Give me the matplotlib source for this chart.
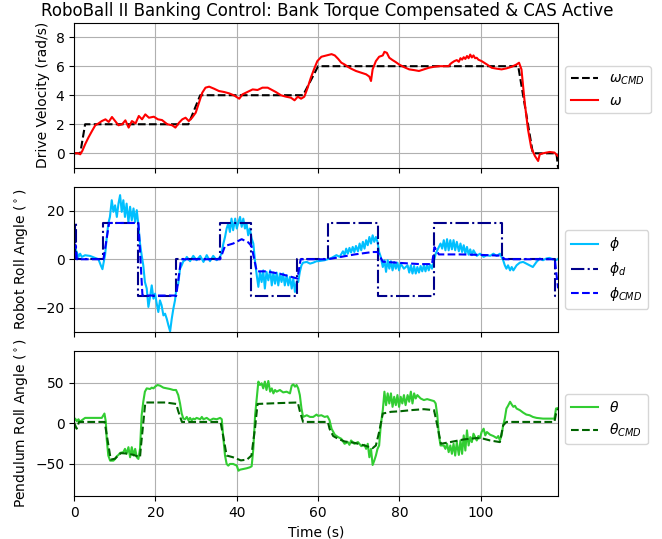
import matplotlib
matplotlib.use("Agg")
import matplotlib.pyplot as plt

# drive velocity command / measured (rad/s)
t_wcmd = [0, 1.5, 2.7, 28.1, 31.0, 56.3, 60.0, 109.2, 112.8, 118.6, 119.0]
w_cmd = [0, 0, 2, 2, 4, 4, 6, 6, 0, 0, -1]

t_w = [0, 1.0, 1.5, 2.0, 2.7, 3.5, 4.4, 5.2, 6.0, 6.8, 7.7, 8.5, 9.3, 10.1, 10.9, 11.8,
       12.6, 13.4, 14.2, 15.1, 15.9, 16.7, 17.5, 18.4, 19.6, 20.6, 21.6, 22.9, 24.1, 24.9,
       25.8, 26.6, 27.4, 28.2, 29.0, 29.9, 30.7, 31.5, 32.3, 33.2, 34.4, 35.6, 36.9, 38.1,
       39.3, 40.6, 41.4, 42.6, 43.9, 45.1, 46.3, 47.6, 48.4, 49.6, 50.9, 52.1, 53.3, 54.2,
       55.0, 55.8, 56.6, 57.4, 58.2, 59.0, 59.8, 60.8, 62.0, 63.3, 64.1, 64.9, 65.7, 66.5,
       67.3, 68.1, 69.3, 70.6, 71.8, 72.6, 73.0, 73.4, 74.2, 75.0, 75.9, 76.3, 76.9, 77.5,
       78.3, 79.1, 79.9, 81.1, 82.4, 83.6, 84.8, 86.0, 87.2, 88.5, 89.7, 90.9, 92.1, 92.5,
       92.9, 93.5, 94.1, 94.6, 95.0, 95.4, 95.8, 96.2, 96.6, 97.0, 97.4, 97.8, 98.2, 98.6,
       99.0, 99.4, 100.2, 101.5, 102.7, 103.9, 105.1, 106.3, 107.6, 108.8,
       109.4, 110.0, 110.8, 111.6, 112.4, 113.3, 114.1, 114.5, 115.3, 116.9, 118.1, 118.9]
w = [0.0, 0.0, -0.07, 0.16, 0.62, 1.08, 1.54, 1.93, 2.06, 2.22, 2.34, 2.16, 2.5, 2.22, 1.93, 2.0,
     2.27, 1.77, 2.22, 2.06, 2.57, 2.34, 2.68, 2.45, 2.52, 2.34, 2.29, 2.0, 1.93, 1.77,
     2.11, 2.34, 2.45, 2.22, 2.45, 2.8, 3.49, 4.17, 4.52, 4.59, 4.45, 4.29, 4.22, 4.13,
     3.99, 3.76, 4.06, 4.22, 4.4, 4.36, 4.52, 4.52, 4.4, 4.22, 3.99, 3.9, 3.83, 3.65,
     3.9, 3.76, 3.9, 4.5, 5.2, 5.8, 6.35, 6.65, 6.74, 6.83, 6.74, 6.51, 6.24, 6.12,
     5.96, 5.83, 5.67, 5.55, 5.44, 5.28, 4.98, 5.78, 6.35, 6.65, 6.74, 6.99, 6.92, 6.58,
     6.42, 6.28, 6.12, 5.94, 5.78, 5.73, 5.67, 5.78, 5.89, 5.96, 6.0, 6.0, 6.0, 6.15,
     6.24, 6.35, 6.42, 6.3, 6.55, 6.45, 6.62, 6.5, 6.7, 6.55, 6.8, 6.6, 6.74, 6.55,
     6.58, 6.45, 6.35, 6.12, 5.89, 5.83, 5.78, 5.85, 5.96, 6.12,
     6.24, 5.78, 3.49, 1.65, 0.39, -0.18, -0.53, -0.07, 0.0, 0.09, 0.05, -0.18]

# robot roll angle (deg)
t_phi = [0, 0.25, 0.65, 1.06, 1.47, 1.88, 2.7, 3.9, 5.16, 5.98, 6.55, 6.96, 7.2, 7.6, 8.0, 8.4,
         8.8, 9.25, 9.66, 10.07, 10.5, 10.9, 11.3, 11.7, 12.1, 12.5, 12.9, 13.35, 13.76, 14.17,
         14.6, 15.0, 15.4, 15.8, 16.2, 16.6, 17.0, 17.4, 17.85, 18.26, 18.67, 19.08, 19.5, 19.9,
         20.3, 20.7, 21.1, 21.5, 21.95, 22.36, 22.77, 23.18, 23.6, 24.0, 24.4, 24.8, 25.2, 25.6,
         26.04, 26.45, 26.86, 27.27, 27.7, 28.5, 29.3, 30.1, 31.0, 31.8, 32.6, 33.4, 34.2, 35.05,
         35.9, 36.3, 36.7, 37.1, 37.5, 37.9, 38.3, 38.7, 39.1, 39.6, 40.0, 40.4, 40.8, 41.2,
         41.6, 42.0, 42.4, 42.8, 43.2, 43.65, 44.06, 44.5, 44.9, 45.3, 45.7, 46.1, 46.5, 46.9,
         47.3, 47.75, 48.2, 48.6, 49.0, 49.4, 49.8, 50.2, 50.6, 51.0, 51.4, 51.8, 52.25, 52.66,
         53.07, 53.5, 53.9, 54.3, 54.7, 55.1, 55.5, 55.9, 56.3, 57.2, 58.0, 58.8, 59.6, 60.0,
         61.6, 63.3, 64.5, 65.3, 66.1, 66.5, 66.9, 67.3, 67.7, 68.1, 68.5, 68.9, 69.3, 69.8,
         70.2, 70.6, 71.0, 71.4, 71.8, 72.2, 72.6, 73.0, 73.4, 73.8, 74.2, 74.6, 75.0, 75.4,
         75.9, 76.3, 76.7, 77.1, 77.5, 77.9, 78.3, 78.7, 79.1, 79.5, 79.9, 80.3, 81.1, 82.0,
         82.4, 82.8, 83.2, 83.6, 84.0, 84.4, 84.8, 85.2, 85.6, 86.0, 86.4, 86.8, 87.2, 87.6,
         88.0, 88.5, 88.9, 89.3, 89.7, 90.1, 90.5, 90.9, 91.3, 91.7, 92.1, 92.5, 92.9, 93.3,
         93.7, 94.1, 94.6, 95.0, 95.4, 95.8, 96.2, 96.6, 97.0, 97.4, 97.8, 98.2, 99.0, 99.8,
         100.7, 101.5, 102.3, 103.1, 103.9, 104.7, 105.1, 105.5, 105.9, 106.3, 106.7, 107.2,
         107.6, 108.0, 108.8, 109.6, 110.4, 111.2, 112.0, 112.8, 113.7, 114.5, 115.3, 116.1,
         116.9, 117.7, 118.5, 119.0]
phi = [0, 4.4, 3.0, 0.97, 2.3, 0.97, 1.66, 1.38, 0.55, 0, -2.5, -4.1, -1.8, 1.66, 8.6, 14.8,
       17.5, 24.4, 19.6, 22.3, 17.5, 23.0, 26.5, 19.6, 24.4, 17.5, 23.0, 15.4, 21.7, 16.1,
       21.0, 15.4, 20.3, 14.1, 6.5, 1.7, -2.5, -9.4, -12.1, -19.7, -15.6, -10.8, -16.3, -14.2,
       -18.3, -21.8, -17.0, -19.0, -23.2, -22.5, -24.6, -27.3, -29.8, -24.6, -20.4, -17.0, -11.4, -10.1,
       -3.9, -2.5, -0.8, -0.4, 0.97, -0.8, 1.4, -0.4, 1.4, -1.1, 1.7, -0.8, 1.4, -0.4,
       1.0, 3.0, 6.5, 9.2, 12.7, 14.8, 11.3, 16.8, 12.0, 16.8, 12.7, 15.4, 17.5, 13.4,
       16.8, 12.7, 14.8, 9.9, 12.7, 8.6, 6.5, -1.1, -6.6, -11.4, -5.2, -9.4, -4.6, -12.1,
       -5.2, -8.7, -4.6, -10.8, -5.5, -10.1, -5.5, -10.8, -5.9, -9.4, -5.9, -10.8, -6.6, -10.8,
       -7.3, -12.1, -8.0, -13.5, -9.4, -9.4, -5.2, -2.5, -1.4, -1.1, -1.8, -1.4, -0.8, -0.8,
       -0.4, 0.55, 1.7, 1.0, 3.3, 1.7, 4.4, 2.3, 4.7, 2.8, 5.1, 3.0, 5.5, 3.3,
       6.5, 3.7, 7.2, 4.4, 7.9, 5.8, 9.2, 6.5, 9.9, 7.2, 9.2, 7.2, 3.0, 1.0,
       -3.2, -0.4, -5.2, -0.4, -3.9, -0.8, -4.6, -1.1, -3.9, -1.4, -4.6, -1.8, -3.9, -2.5,
       -5.5, -2.5, -5.9, -2.8, -5.9, -3.2, -5.5, -2.8, -5.0, -2.5, -5.0, -2.2, -4.6, -2.2,
       -3.9, -0.4, 2.3, 3.7, 5.1, 6.5, 4.4, 7.9, 3.7, 8.3, 3.7, 7.9, 4.1, 7.9,
       3.7, 7.2, 3.3, 6.5, 3.0, 5.8, 2.3, 5.1, 1.9, 4.1, 1.7, 3.7, 1.4, 2.3,
       1.0, 1.7, 1.4, 2.3, 1.4, 2.3, 1.0, -0.4, -2.5, -3.9, -2.5, -4.6,
       -3.2, -4.6, -2.5, -1.4, -1.1, -1.8, -2.5, -3.2, -1.1, 0.3, -0.4, 0.3,
       0.55, 0, -0.4, 0.2]

t_phid = [0, 0.25, 0.25, 0.55, 0.55, 7.2, 7.2, 15.8, 15.8, 25.1, 25.1, 35.9, 35.9, 43.6,
          43.6, 54.9, 54.9, 62.4, 62.4, 74.6, 74.6, 88.6, 88.6, 105.1, 105.1, 118.3, 118.3, 119.0]
phi_d = [0, 0, 15, 15, 0, 0, 15, 15, -15, -15, 0, 0, 15, 15,
         -15, -15, 0, 0, 15, 15, -15, -15, 15, 15, 0, 0, -15, -15]

t_phicmd = [0, 0.3, 0.7, 7.2, 8.6, 15.8, 16.8, 25.1, 26.3, 35.9, 37.1, 39.1, 41.2, 42.8, 43.6,
            44.9, 47.3, 50.6, 53.9, 54.9, 55.7, 62.4, 65.7, 69.0, 73.4, 74.6, 75.9, 80.0, 85.0,
            88.0, 88.6, 89.7, 95.0, 100.0, 104.7, 106.0, 118.2, 119.0]
phi_cmd = [0, 6, 0, 0, 15, 15, -15, -15, 0, 0, 5.5, 6.5, 8.3, 7, 5.5,
           -5, -5, -6, -7.5, -8, 0, 0, 1, 2, 3, 3, -1, -1.5, -2,
           -2, 5, 2, 2, 1.8, 1.5, 0, 0, -12]

# pendulum roll angle (deg)
t_th = [0, 0.25, 0.65, 1.06, 1.47, 1.88, 2.7, 3.9, 5.6, 6.8, 7.2, 7.45, 7.8, 8.0, 8.4, 8.85,
        9.66, 10.07, 10.5, 10.9, 11.3, 12.1, 12.5, 12.9, 13.35, 13.76, 14.17, 14.6, 15.0, 15.4,
        15.8, 16.2, 16.6, 17.0, 17.4, 17.85, 18.67, 19.08, 19.5, 19.9, 20.5, 21.1, 21.95, 22.77,
        23.6, 24.4, 25.06, 25.6, 26.04, 26.45, 26.86, 27.27, 27.7, 28.1, 28.5, 28.9, 29.3, 29.7,
        30.1, 31.0, 31.4, 31.8, 32.6, 33.4, 34.2, 35.05, 35.9, 36.3, 36.7, 37.1, 37.5, 37.9,
        38.3, 39.1, 40.0, 40.4, 40.8, 41.6, 42.4, 43.2, 43.65, 44.06, 44.5, 44.9, 45.3, 45.7,
        46.1, 46.5, 46.9, 47.3, 47.75, 48.2, 48.6, 49.0, 49.4, 49.8, 50.6, 51.4, 52.25, 53.07,
        53.5, 53.9, 54.3, 54.7, 55.1, 55.5, 55.9, 56.3, 57.2, 58.0, 58.8, 59.6, 60.0, 60.8,
        61.6, 62.3, 62.8, 63.3, 64.1, 64.9, 65.7, 66.5, 67.3, 67.7, 68.1, 68.9, 69.8, 70.6,
        71.4, 71.8, 72.2, 72.6, 73.0, 73.4, 73.8, 74.2, 74.6, 75.0, 75.4, 75.9, 76.3, 76.7,
        77.1, 77.5, 77.9, 78.3, 78.7, 79.1, 79.5, 79.9, 80.3, 80.7, 81.1, 81.5, 82.0, 82.4,
        82.8, 83.2, 83.6, 84.0, 84.4, 85.2, 86.0, 86.8, 87.6, 88.5, 88.9, 89.3, 89.7, 90.1,
        90.9, 91.3, 91.7, 92.1, 92.5, 92.9, 93.3, 93.7, 94.1, 94.6, 95.0, 95.4, 95.8, 96.2,
        96.6, 97.0, 97.4, 97.8, 98.2, 99.0, 99.4, 99.8, 100.2, 100.7, 101.1, 101.5, 102.3, 103.1,
        103.9, 104.3, 104.7, 105.1, 105.5, 105.9, 106.3, 106.7, 107.2, 107.6, 108.0, 108.4, 108.8,
        109.6, 110.4, 111.2, 112.0, 112.8, 113.7, 115.3, 116.9, 118.1, 118.5, 119.0]
theta = [3.75, 5.8, 2.5, 5.0, 1.7, 3.75, 6.7, 6.7, 6.7, 6.7, 10, 12.1, 1.7, -19.2, -40, -46.3,
         -46.3, -44.2, -40.8, -39.2, -36.7, -35.8, -31.7, -37.9, -29.6, -42.1, -29.6, -40, -31.7, -42.1,
         -44.2, -31.7, 10, 26.7, 39.2, 43.3, 42.5, 44.2, 43.3, 45.4, 47.5, 46.7, 44.2, 43.3,
         42.5, 41.3, 41.3, 35, 24.6, 12.1, 5.8, 5, 7.9, 3.75, 6.7, 3.75, 5.8, 5,
         6.7, 5, 7.9, 5, 6.7, 3.75, 5.8, 5, 6.7, 5, -19.2, -40, -50.4, -52.5,
         -50.4, -50.4, -52.5, -58.8, -57.5, -56.7, -55.8, -54.6, -53.3, -31.7, 10, 30.8, 51.7, 47.5,
         49.6, 43.3, 51.7, 41.3, 52.5, 39.2, 43.3, 37.1, 41.3, 39.2, 41.3, 38.3, 39.2, 37.1,
         46.7, 48.3, 45.4, 47.5, 43.3, 35, 18.3, 7.9, 10, 7.9, 7.9, 10.8, 9.2, 10,
         7.9, 8.75, 3.75, -6.7, -14.2, -17.1, -19.2, -25.4, -23.3, -26.7, -21.3, -25.4, -23.3, -28.3,
         -26.7, -31.7, -25.4, -42.1, -31.7, -51.7, -46.3, -40, -31.7, -27.5, -2.5, 16.3, 39.2, 22.5,
         37.1, 24.6, 37.1, 20.4, 32.9, 22.5, 35, 20.4, 32.9, 24.6, 35, 22.5, 35, 26.7,
         39.2, 24.6, 37.1, 30.8, 35, 30.8, 28.8, 30, 28.8, 27.5, 24.6, 10, -15, -27.5,
         -27.5, -31.7, -25.4, -35.8, -27.5, -37.9, -25.4, -40, -23.3, -39.2, -21.3, -37.9, -15, -33.8,
         -8.75, -27.5, -17.1, -23.3, -12.9, -21.3, -15.8, -18.3, -10.8, -6.7, -15, -10.8, -14.2, -15.8,
         -18.3, -15.8, -21.3, -15, -2.5, 5.8, 18.3, 21.7, 26.7, 23.3, 20.4, 21.7, 18.3,
         16.3, 13.3, 10.8, 10, 7.9, 6.7, 5.8, 5.8, 5.8, 18.3, 19]

t_thcmd = [0, 0.6, 1.2, 7.5, 9.0, 10.0, 11.5, 13.0, 14.5, 16.2, 16.4, 17.5, 22.5, 25.1, 25.6,
           26.5, 36.0, 36.8, 37.5, 39.0, 41.0, 42.5, 43.6, 44.5, 45.1, 50.0, 55.0, 55.5, 56.3,
           62.4, 62.8, 63.7, 64.9, 66.5, 68.9, 71.4, 73.4, 74.2, 75.0, 75.9, 77.9, 80.3, 82.8,
           86.0, 88.5, 89.3, 90.2, 92.5, 95.8, 99.0, 100.7, 102.3, 104.7, 105.5, 106.3, 118.1,
           118.5, 119.0]
theta_cmd = [0.8, -6.7, 1.7, 1.7, -45, -44, -37, -37.5, -39, -42, -30, 25.8, 25.8, 24, 15,
             1.7, 1.7, -20, -40, -42, -46, -45, -40, -5, 24, 25, 25.8, 15, 1.7,
             1.7, -6.7, -15.8, -19.2, -22.5, -24.2, -27.5, -30.8, -27.5, -10.8, 12.1, 14.2, 15, 16.3,
             17.5, 16.3, -2.5, -25.4, -23.3, -20, -18.3, -19.2, -21.3, -23.3, -2.5, 1.7, 1.7,
             12, 18]

fig, (ax1, ax2, ax3) = plt.subplots(3, 1, sharex=True, figsize=(6.62, 5.39), dpi=100)
fig.subplots_adjust(left=0.112, right=0.843, top=0.958, bottom=0.08, hspace=0.13)

ax1.plot(t_wcmd, w_cmd, color="black", linestyle="--", linewidth=1.5, label=r"$\omega_{CMD}$")
ax1.plot(t_w, w, color="red", linewidth=1.5, label=r"$\omega$")
ax1.set_ylabel("Drive Velocity (rad/s)")
ax1.set_ylim(-1, 9)
fig.suptitle("RoboBall II Banking Control: Bank Torque Compensated & CAS Active",
             x=0.494, y=0.997, fontsize=12)

ax2.plot(t_phi, phi, color="deepskyblue", linewidth=1.5, label=r"$\phi$")
ax2.plot(t_phid, phi_d, color="darkblue", linestyle="-.", linewidth=1.5, label=r"$\phi_d$")
ax2.plot(t_phicmd, phi_cmd, color="blue", linestyle="--", linewidth=1.5, label=r"$\phi_{CMD}$")
ax2.set_ylabel(r"Robot Roll Angle ($^\circ$)")
ax2.set_ylim(-30, 30)

ax3.plot(t_th, theta, color="limegreen", linewidth=1.5, label=r"$\theta$")
ax3.plot(t_thcmd, theta_cmd, color="darkgreen", linestyle="--", linewidth=1.5, label=r"$\theta_{CMD}$")
ax3.set_ylabel(r"Pendulum Roll Angle ($^\circ$)")
ax3.set_ylim(-90, 90)
ax3.set_xlabel("Time (s)")
ax3.set_xlim(0, 119)

for ax in (ax1, ax2, ax3):
    ax.grid(True)
    ax.legend(loc="upper left", bbox_to_anchor=(1.0, 0.75))

fig.savefig("out.png", dpi=100)
